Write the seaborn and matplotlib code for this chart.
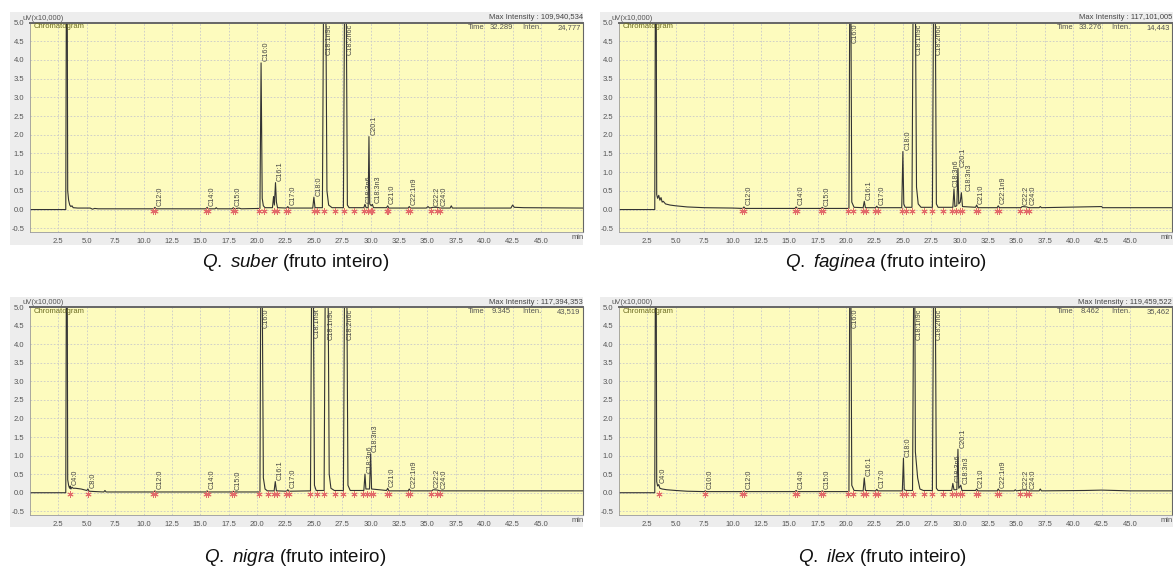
import matplotlib
matplotlib.use("Agg")
import matplotlib.pyplot as plt
import seaborn as sns
from matplotlib.patches import Rectangle
from matplotlib.ticker import MultipleLocator

# -----------------------------------------------------
# Style
# -----------------------------------------------------

sns.set_style("white")
plt.rcParams["font.family"] = ["Liberation Sans", "DejaVu Sans"]
plt.rcParams["mathtext.fontset"] = "custom"
plt.rcParams["mathtext.it"] = "Liberation Sans:italic"
plt.rcParams["mathtext.rm"] = "Liberation Sans"

# -----------------------------------------------------
# Data (time in min, signal in uV x 10,000)
# -----------------------------------------------------

suber_trace = [
    (0.0, 0.0), (3.15, 0.0), (3.2, 5.6), (3.28, 5.6), (3.32, 0.5), (3.4, 0.25),
    (3.5, 0.12), (3.6, 0.08), (3.7, 0.1), (3.8, 0.05), (4.2, 0.04), (5.3, 0.04),
    (5.5, 0.01), (5.7, 0.03), (6.0, 0.02),
    (10.9, 0.02), (11.0, 0.06), (11.1, 0.02),
    (15.5, 0.02), (15.6, 0.06), (15.7, 0.02), (16.3, 0.02), (16.4, 0.05), (16.5, 0.02),
    (17.8, 0.02), (17.9, 0.05), (18.0, 0.02), (18.4, 0.04), (18.6, 0.02),
    (20.25, 0.03), (20.35, 3.92), (20.45, 0.3), (20.55, 0.1), (20.7, 0.05),
    (21.35, 0.05), (21.45, 0.35), (21.52, 0.12), (21.62, 0.72), (21.7, 0.2), (21.8, 0.05),
    (22.6, 0.04), (22.7, 0.08), (22.8, 0.04),
    (24.9, 0.04), (25.0, 0.33), (25.1, 0.05),
    (25.75, 0.05), (25.85, 5.6), (26.05, 5.6), (26.15, 0.5), (26.3, 0.12), (26.6, 0.05),
    (27.6, 0.05), (27.7, 5.6), (27.85, 5.6), (27.95, 0.12), (28.1, 0.05),
    (29.4, 0.05), (29.5, 0.14), (29.6, 0.05), (29.78, 0.05), (29.85, 1.95), (29.92, 0.15),
    (30.05, 0.1), (30.15, 0.14), (30.25, 0.05),
    (31.4, 0.05), (31.5, 0.1), (31.6, 0.04),
    (33.3, 0.04), (33.4, 0.08), (33.5, 0.04),
    (34.9, 0.04), (35.05, 0.08), (35.2, 0.04), (35.5, 0.06), (35.9, 0.06), (36.1, 0.04),
    (37.0, 0.04), (37.1, 0.1), (37.2, 0.04),
    (42.35, 0.04), (42.5, 0.12), (42.65, 0.06), (43.5, 0.05), (48.7, 0.04),
]

faginea_trace = [
    (0.0, 0.0), (3.15, 0.0), (3.2, 5.6), (3.28, 5.6), (3.32, 0.4), (3.4, 0.3),
    (3.5, 0.38), (3.6, 0.25), (3.7, 0.32), (3.8, 0.2), (3.9, 0.22), (4.1, 0.15),
    (4.5, 0.12), (5.0, 0.1), (6.0, 0.07), (7.5, 0.05), (10.0, 0.04),
    (10.9, 0.03), (11.0, 0.07), (11.1, 0.03),
    (15.5, 0.03), (15.6, 0.07), (15.7, 0.03),
    (17.8, 0.03), (17.9, 0.06), (18.0, 0.03),
    (20.25, 0.03), (20.32, 5.6), (20.42, 5.6), (20.5, 0.2), (20.7, 0.06),
    (21.5, 0.05), (21.6, 0.22), (21.7, 0.05),
    (22.6, 0.05), (22.7, 0.09), (22.8, 0.05),
    (24.9, 0.05), (25.0, 1.55), (25.08, 0.15), (25.2, 0.06),
    (25.8, 0.06), (25.9, 5.6), (26.1, 5.6), (26.2, 0.6), (26.35, 0.15), (26.6, 0.06),
    (27.6, 0.06), (27.7, 5.6), (27.85, 5.6), (27.95, 0.15), (28.1, 0.06),
    (29.4, 0.06), (29.5, 0.55), (29.58, 0.08), (29.75, 0.1), (29.85, 1.1), (29.92, 0.15),
    (30.05, 0.2), (30.15, 0.45), (30.25, 0.08),
    (31.4, 0.06), (31.5, 0.12), (31.6, 0.05),
    (33.3, 0.05), (33.4, 0.1), (33.5, 0.05),
    (35.4, 0.05), (35.5, 0.08), (35.9, 0.07), (36.1, 0.05),
    (37.0, 0.05), (37.1, 0.08), (37.2, 0.05), (42.5, 0.08), (42.6, 0.05), (48.7, 0.05),
]

nigra_trace = [
    (0.0, 0.0), (3.15, 0.0), (3.2, 5.6), (3.28, 5.6), (3.32, 0.35), (3.4, 0.2),
    (3.45, 0.15), (3.5, 0.12), (3.55, 0.18), (3.6, 0.1), (3.7, 0.15), (3.8, 0.12),
    (4.0, 0.12), (4.5, 0.1), (5.0, 0.06), (5.1, 0.1), (5.2, 0.04), (5.8, 0.03),
    (6.5, 0.02), (6.6, 0.06), (6.7, 0.02),
    (10.9, 0.02), (11.0, 0.05), (11.1, 0.02),
    (15.5, 0.02), (15.6, 0.05), (15.7, 0.02),
    (17.8, 0.02), (17.9, 0.04), (18.0, 0.02),
    (20.25, 0.02), (20.32, 5.6), (20.45, 5.6), (20.55, 0.4), (20.7, 0.1), (20.9, 0.05),
    (21.5, 0.05), (21.6, 0.3), (21.7, 0.05),
    (22.6, 0.04), (22.7, 0.08), (22.8, 0.04),
    (24.7, 0.05), (24.8, 5.6), (24.95, 5.6), (25.05, 0.2), (25.2, 0.06),
    (25.9, 0.06), (26.0, 5.6), (26.25, 5.6), (26.35, 0.5), (26.5, 0.12), (26.8, 0.06),
    (27.6, 0.06), (27.7, 5.6), (27.9, 5.6), (28.0, 0.2), (28.2, 0.06),
    (29.4, 0.06), (29.5, 0.5), (29.58, 0.1), (29.9, 0.1), (30.0, 1.05), (30.08, 0.1),
    (31.4, 0.06), (31.5, 0.12), (31.6, 0.05),
    (33.3, 0.05), (33.4, 0.1), (33.5, 0.05),
    (35.4, 0.05), (35.5, 0.08), (35.9, 0.07), (36.1, 0.05), (48.7, 0.05),
]

ilex_trace = [
    (0.0, 0.0), (3.15, 0.0), (3.2, 5.6), (3.28, 5.6), (3.32, 0.3), (3.4, 0.18),
    (3.5, 0.22), (3.6, 0.12), (3.8, 0.1), (4.2, 0.08), (5.0, 0.06), (6.0, 0.04),
    (7.5, 0.03), (7.6, 0.05), (7.7, 0.03),
    (10.9, 0.03), (11.0, 0.05), (11.1, 0.03),
    (15.5, 0.03), (15.6, 0.06), (15.7, 0.03),
    (17.8, 0.03), (17.9, 0.05), (18.0, 0.03),
    (20.25, 0.03), (20.32, 5.6), (20.42, 5.6), (20.5, 0.2), (20.7, 0.06),
    (21.5, 0.05), (21.6, 0.4), (21.7, 0.06),
    (22.6, 0.05), (22.7, 0.09), (22.8, 0.05),
    (24.95, 0.05), (25.05, 0.93), (25.12, 0.08), (25.3, 0.06),
    (25.85, 0.06), (25.95, 5.6), (26.05, 5.6), (26.1, 1.1), (26.3, 0.4), (26.5, 0.1), (26.8, 0.06),
    (27.6, 0.06), (27.7, 5.6), (27.85, 5.6), (27.95, 0.12), (28.1, 0.06),
    (29.3, 0.06), (29.4, 0.25), (29.5, 0.08), (29.75, 0.08), (29.85, 1.17), (29.92, 0.12),
    (30.1, 0.2), (30.2, 0.06),
    (31.4, 0.06), (31.5, 0.1), (31.6, 0.05),
    (33.3, 0.05), (33.4, 0.1), (33.5, 0.05),
    (34.8, 0.05), (34.9, 0.08), (35.0, 0.05), (35.5, 0.07), (35.9, 0.07), (36.1, 0.05),
    (37.0, 0.05), (37.1, 0.1), (37.2, 0.05),
    (41.0, 0.06), (42.5, 0.07), (45.0, 0.05), (48.7, 0.05),
]

# peak labels: name, label position (min), apex height (9 = off scale)
suber_names = ["C12:0", "C14:0", "C15:0", "C16:0", "C16:1", "C17:0", "C18:0", "C18:1n9c",
               "C18:2n6c", "C18:3n6", "C20:1", "C18:3n3", "C21:0", "C22:1n9", "C22:2", "C24:0"]
suber_rt = [11.0, 15.6, 17.9, 20.35, 21.62, 22.7, 25.0, 25.95, 27.78, 29.45, 29.85, 30.2,
            31.5, 33.4, 35.4, 36.0]
suber_apex = [0.06, 0.06, 0.05, 3.92, 0.72, 0.08, 0.33, 9, 9, 0.14, 1.95, 0.14, 0.1, 0.08, 0.06, 0.06]

faginea_names = ["C12:0", "C14:0", "C15:0", "C16:0", "C16:1", "C17:0", "C18:0", "C18:1n9c",
                 "C18:2n6c", "C18:3n6", "C20:1", "C18:3n3", "C21:0", "C22:1n9", "C22:2", "C24:0"]
faginea_rt = [11.0, 15.6, 17.9, 20.37, 21.6, 22.7, 25.0, 26.0, 27.78, 29.3, 29.9, 30.4,
              31.5, 33.4, 35.4, 36.0]
faginea_apex = [0.07, 0.07, 0.06, 9, 0.22, 0.09, 1.55, 9, 9, 0.55, 1.1, 0.45, 0.12, 0.1, 0.08, 0.07]

nigra_names = ["C4:0", "C8:0", "C12:0", "C14:0", "C15:0", "C16:0", "C16:1", "C17:0", "C18:1n9t",
               "C18:1n9c", "C18:2n6c", "C18:3n6", "C18:3n3", "C21:0", "C22:1n9", "C22:2", "C24:0"]
nigra_rt = [3.55, 5.1, 11.0, 15.6, 17.9, 20.38, 21.6, 22.7, 24.88, 26.12, 27.8, 29.5, 30.0,
            31.5, 33.4, 35.4, 36.0]
nigra_apex = [0.18, 0.1, 0.05, 0.05, 0.04, 9, 0.3, 0.08, 9, 9, 9, 0.5, 1.05, 0.12, 0.1, 0.08, 0.07]

ilex_names = ["C4:0", "C10:0", "C12:0", "C14:0", "C15:0", "C16:0", "C16:1", "C17:0", "C18:0",
              "C18:1n9c", "C18:2n6c", "C18:3n6", "C20:1", "C18:3n3", "C21:0", "C22:1n9", "C22:2", "C24:0"]
ilex_rt = [3.5, 7.6, 11.0, 15.6, 17.9, 20.37, 21.6, 22.7, 25.05, 26.0, 27.78, 29.4, 29.85, 30.15,
           31.5, 33.4, 35.4, 36.0]
ilex_apex = [0.22, 0.05, 0.05, 0.06, 0.05, 9, 0.4, 0.09, 0.93, 9, 9, 0.25, 1.17, 0.2, 0.1, 0.1, 0.07, 0.07]

# integration marks (red asterisks on the baseline)
suber_marks = [10.8, 11.05, 15.5, 15.7, 17.85, 18.05, 20.2, 20.6, 21.5, 21.75, 22.55, 22.75,
               25.0, 25.3, 25.9, 26.9, 27.65, 28.5, 29.4, 29.75, 30.0, 30.1, 31.4, 31.55,
               33.3, 33.45, 35.35, 35.85, 36.1]
faginea_marks = [10.8, 11.05, 15.5, 15.7, 17.8, 18.0, 20.2, 20.6, 21.5, 21.75, 22.55, 22.8,
                 24.9, 25.3, 25.8, 26.9, 27.6, 28.5, 29.35, 29.7, 30.0, 30.2, 31.4, 31.6,
                 33.3, 33.5, 35.35, 35.85, 36.1]
nigra_marks = [3.5, 5.1, 10.8, 11.05, 15.5, 15.7, 17.8, 18.0, 20.2, 21.0, 21.5, 21.75, 22.55,
               22.8, 24.7, 25.3, 25.9, 26.9, 27.6, 28.5, 29.35, 29.7, 30.0, 30.2, 31.4, 31.6,
               33.3, 33.5, 35.35, 35.85, 36.1]
ilex_marks = [3.5, 7.6, 10.8, 11.05, 15.5, 15.7, 17.8, 18.0, 20.2, 20.6, 21.5, 21.75, 22.55,
              22.8, 24.9, 25.3, 25.85, 26.9, 27.6, 28.5, 29.3, 29.7, 30.0, 30.2, 31.4, 31.6,
              33.3, 33.5, 35.35, 35.85, 36.1]

panels = [
    ("suber", suber_trace, suber_names, suber_rt, suber_apex, suber_marks,
     "109,940,534", "32.289", "24,777"),
    ("faginea", faginea_trace, faginea_names, faginea_rt, faginea_apex, faginea_marks,
     "117,101,005", "33.276", "14,443"),
    ("nigra", nigra_trace, nigra_names, nigra_rt, nigra_apex, nigra_marks,
     "117,394,353", "9.345", "43,519"),
    ("ilex", ilex_trace, ilex_names, ilex_rt, ilex_apex, ilex_marks,
     "119,459,522", "8.462", "35,462"),
]

# -----------------------------------------------------
# Layout (pixel boxes)
# -----------------------------------------------------

W, H = 1173, 573
fig = plt.figure(figsize=(W / 100, H / 100), dpi=100)
fig.patch.set_facecolor("white")

# axes box (left, top, right, bottom), grey frame, caption centre
boxes = [
    ((30, 22.5, 583, 232), (10, 12, 583, 245), (296, 262)),
    ((619, 22.5, 1172, 232), (600, 12, 1173, 245), (886, 262)),
    ((30, 307, 583, 515), (10, 297, 583, 527), (295, 557)),
    ((619, 307, 1172, 515), (600, 297, 1173, 527), (882, 557)),
]

YELLOW = "#fdfbbe"
LINE = "#333333"

for (name, trace, names, rts, apex, marks, maxint, t_cur, inten), (ab, gb, cap) in zip(panels, boxes):
    # grey window frame behind the plot
    fig.add_artist(Rectangle((gb[0] / W, 1 - gb[3] / H), (gb[2] - gb[0]) / W,
                             (gb[3] - gb[1]) / H, transform=fig.transFigure,
                             facecolor="#ededed", edgecolor="none", zorder=-10))

    ax = fig.add_axes([ab[0] / W, 1 - ab[3] / H, (ab[2] - ab[0]) / W, (ab[3] - ab[1]) / H])
    ax.set_facecolor(YELLOW)

    t = [p[0] for p in trace]
    s = [p[1] for p in trace]
    sns.lineplot(x=t, y=s, ax=ax, color=LINE, lw=0.8, estimator=None, sort=False)

    ax.scatter(marks, [-0.04] * len(marks), marker=(6, 2, 0), s=15, color="#e26a6a",
               linewidths=0.7, zorder=4)

    for n, rt, h in zip(names, rts, apex):
        if h > 5:
            ax.text(rt + 0.12, 4.96, n, rotation=90, fontsize=5.2, color="#444444",
                    ha="left", va="top")
        else:
            ax.text(rt + 0.12, h + 0.04, n, rotation=90, fontsize=5.2, color="#444444",
                    ha="left", va="bottom")

    ax.set_xlim(0, 48.7)
    ax.set_ylim(-0.6, 5.0)
    xt = [2.5 * k for k in range(1, 19)]
    ax.set_xticks(xt)
    ax.set_xticklabels([f"{v:.1f}" for v in xt])
    ax.xaxis.set_minor_locator(MultipleLocator(0.5))
    ax.set_yticks([-0.5 + 0.5 * k for k in range(12)])
    ax.set_yticklabels([f"{-0.5 + 0.5 * k:.1f}" for k in range(12)])
    ax.yaxis.set_minor_locator(MultipleLocator(0.1))
    ax.tick_params(axis="both", which="major", labelsize=5.5, labelcolor="#555555",
                   length=3, width=0.6, color="#777777", pad=1)
    ax.tick_params(axis="both", which="minor", length=1.5, width=0.5, color="#777777")
    ax.grid(True, which="major", color="#c9c9c9", lw=0.6, linestyle=(0, (2, 2)))
    ax.set_axisbelow(True)
    for side in ["left", "bottom"]:
        ax.spines[side].set_color("#9a9a9a")
        ax.spines[side].set_linewidth(0.6)
    ax.spines["top"].set_color("#666666")
    ax.spines["top"].set_linewidth(1.4)
    ax.spines["right"].set_color("#666666")
    ax.spines["right"].set_linewidth(0.8)

    ax.text(48.2, -0.66, "min", fontsize=5.5, color="#555555", ha="center", va="top")
    ax.text(-0.7, 5.02, "uV(x10,000)", fontsize=5.5, color="#555555", ha="left", va="bottom")
    ax.text(0.3, 4.98, "Chromatogram", fontsize=5.5, color="#6b6b20", ha="left", va="top")
    ax.text(1.0, 1.005, f"Max Intensity : {maxint}", transform=ax.transAxes, fontsize=5.5,
            color="#444444", ha="right", va="bottom")
    ax.text(39.3, 4.97, "Time", fontsize=5.5, color="#555555", ha="center", va="top")
    ax.text(41.5, 4.97, t_cur, fontsize=5.5, color="#555555", ha="center", va="top")
    ax.text(44.2, 4.97, "Inten.", fontsize=5.5, color="#555555", ha="center", va="top")
    ax.text(48.5, 4.97, inten, fontsize=5.5, color="#555555", ha="right", va="top")
    ax.set_xlabel("")
    ax.set_ylabel("")

    fig.text(cap[0] / W, 1 - cap[1] / H, rf"$\it{{Q.}}$ $\it{{{name}}}$ (fruto inteiro)",
             fontsize=13.5, color="#111111", ha="center", va="center")

fig.savefig("out.png", dpi=100)
